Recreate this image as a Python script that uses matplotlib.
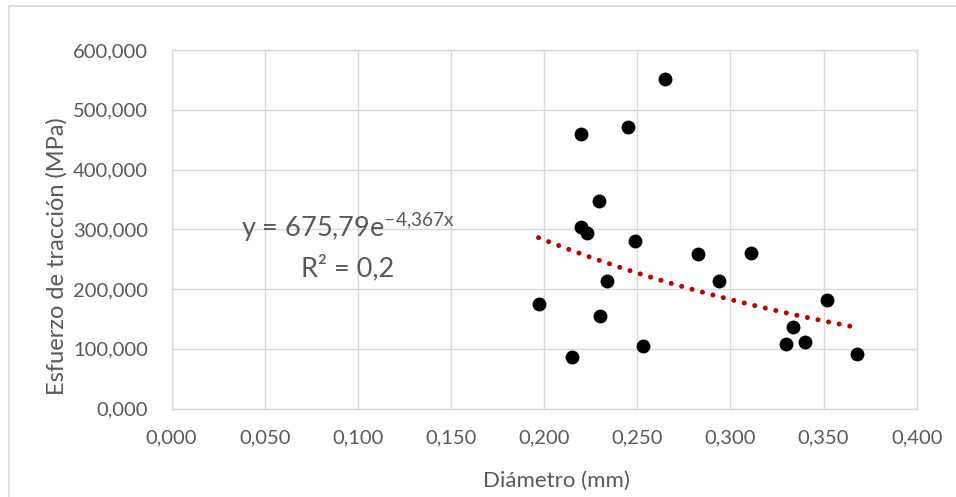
import matplotlib
matplotlib.use("Agg")
import matplotlib.pyplot as plt
import numpy as np
from matplotlib.patches import Rectangle

plt.rcParams['font.family'] = ['Lato', 'DejaVu Sans']
plt.rcParams['mathtext.fontset'] = 'custom'
plt.rcParams['mathtext.rm'] = 'Lato'
plt.rcParams['mathtext.it'] = 'Lato'
plt.rcParams['mathtext.default'] = 'regular'

diametro = [0.265, 0.220, 0.245, 0.2295, 0.220, 0.223, 0.249, 0.2825, 0.294, 0.234,
            0.197, 0.230, 0.253, 0.215, 0.311, 0.3517, 0.3334, 0.3298, 0.340, 0.368]
esfuerzo = [552, 460, 471, 348, 304, 293, 281, 258, 214, 213,
            175, 154, 104, 87, 261, 182, 137, 108, 111, 91]
trend_a = 675.79
trend_b = -4.367
x_ticks = [0.0, 0.05, 0.10, 0.15, 0.20, 0.25, 0.30, 0.35, 0.40]
y_ticks = [0, 100, 200, 300, 400, 500, 600]

W, H = 956, 497
fig = plt.figure(figsize=(W/100, H/100), dpi=100)
fig.patch.set_facecolor('white')
fig.patches.append(Rectangle((9/W, -0.1), 1.2, 1 - 6/H + 0.1, transform=fig.transFigure,
                             fill=False, edgecolor='#D9D9D9', linewidth=1.2))

ax = fig.add_axes([171.5/W, 1 - 408.5/H, (916.7-171.5)/W, (408.5-50)/H])
ax.set_xlim(0, 0.4)
ax.set_ylim(0, 600)
ax.set_xticks(x_ticks)
ax.set_yticks(y_ticks)
ax.set_xticklabels([f"{v:.3f}".replace('.', ',') for v in x_ticks])
ax.set_yticklabels([f"{v:,.3f}".replace('.', ',') for v in y_ticks])
ax.grid(True, color='#D9D9D9', linewidth=1.0)
ax.set_axisbelow(True)
for s in ax.spines.values():
    s.set_color('#D9D9D9')
    s.set_linewidth(1.0)
ax.tick_params(length=0, labelsize=14.5, labelcolor='#595959')
ax.tick_params(axis='y', pad=17)
ax.tick_params(axis='x', pad=15)

xs = np.array(diametro)
xt = np.linspace(xs.min(), xs.max(), 200)
ax.plot(xt, trend_a*np.exp(trend_b*xt), color='#C00000', linewidth=3.6,
        linestyle=(0, (0.01, 2.15)), dash_capstyle='round', zorder=2)
ax.scatter(diametro, esfuerzo, s=100, color='black', zorder=3, linewidths=0)

ax.text(0.0948, 287.5, r"y = 675,79e$^{-4{,}367x}$", ha='center', va='baseline',
        fontsize=19.5, color='#595959')
ax.text(0.0948, 222, "R² = 0,2", ha='center', va='baseline', fontsize=19.5, color='#595959')

fig.text(556/W, 1 - 481/H, "Diámetro (mm)", ha='center', va='center', fontsize=16, color='#595959')
fig.text(57/W, 1 - 256/H, "Esfuerzo de tracción (MPa)", ha='center', va='center',
         rotation=90, fontsize=17, color='#595959')

fig.savefig("out.png", dpi=100)
